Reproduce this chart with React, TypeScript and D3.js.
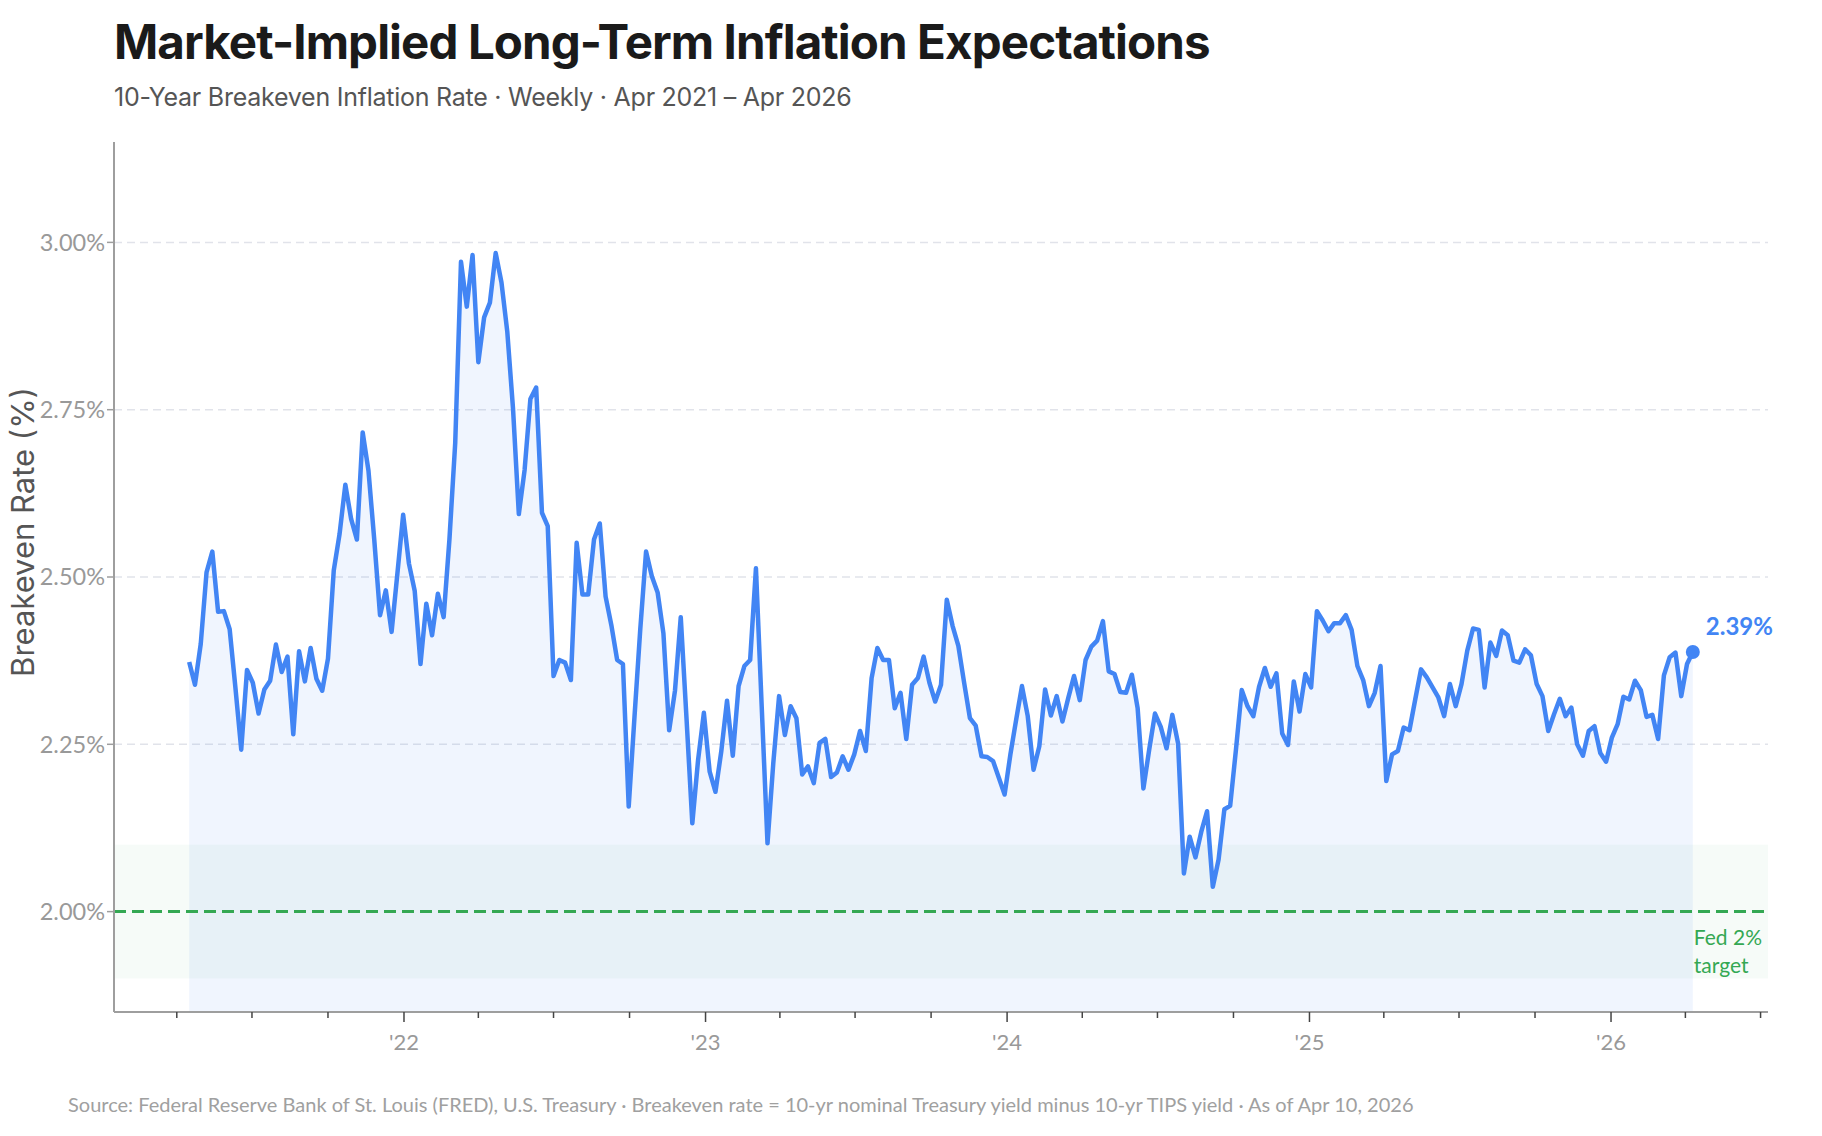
import { useEffect } from 'react';
import * as d3 from 'd3';

const TITLE = 'Market-Implied Long-Term Inflation Expectations';
const SUBTITLE = '10-Year Breakeven Inflation Rate · Weekly · Apr 2021 – Apr 2026';
const SOURCE =
  'Source: Federal Reserve Bank of St. Louis (FRED), U.S. Treasury · Breakeven rate = 10-yr nominal Treasury yield minus 10-yr TIPS yield · As of Apr 10, 2026';
const Y_LABEL = 'Breakeven Rate (%)';

// weekly observations, first one on this Friday
const FIRST_WEEK = '2021-04-16';

// 10-yr breakeven, %, one value per week
const BREAKEVEN = [
  // 2021
  2.373, 2.339, 2.4, 2.507, 2.538, 2.448, 2.449, 2.422, 2.334, 2.242, 2.361, 2.342, 2.296,
  2.332, 2.345, 2.399, 2.358, 2.381, 2.265, 2.389, 2.344, 2.394, 2.348, 2.33, 2.378, 2.51,
  2.564, 2.638, 2.587, 2.556, 2.716, 2.659, 2.556, 2.443, 2.48, 2.418, 2.505, 2.593,
  // 2022
  2.52, 2.479, 2.37, 2.46, 2.413, 2.475, 2.44, 2.556, 2.7, 2.971, 2.904, 2.981, 2.821,
  2.888, 2.91, 2.984, 2.94, 2.867, 2.751, 2.594, 2.66, 2.766, 2.783, 2.596, 2.576, 2.352,
  2.376, 2.372, 2.346, 2.551, 2.474, 2.474, 2.556, 2.58, 2.471, 2.428, 2.376, 2.37, 2.157,
  2.291, 2.422, 2.538, 2.501, 2.477, 2.416, 2.271, 2.33, 2.44, 2.288, 2.132, 2.227,
  // 2023
  2.297, 2.209, 2.179, 2.239, 2.315, 2.233, 2.337, 2.367, 2.376, 2.513, 2.306, 2.102,
  2.222, 2.322, 2.264, 2.307, 2.289, 2.205, 2.217, 2.192, 2.252, 2.258, 2.201, 2.208,
  2.232, 2.212, 2.235, 2.27, 2.24, 2.349, 2.394, 2.376, 2.376, 2.304, 2.327, 2.258, 2.339,
  2.349, 2.381, 2.342, 2.314, 2.339, 2.466, 2.427, 2.397, 2.342, 2.289, 2.278, 2.232,
  2.231, 2.225, 2.2,
  // 2024
  2.175, 2.235, 2.287, 2.337, 2.292, 2.212, 2.247, 2.332, 2.293, 2.322, 2.284, 2.319,
  2.352, 2.316, 2.376, 2.396, 2.405, 2.434, 2.359, 2.355, 2.328, 2.327, 2.354, 2.304,
  2.184, 2.242, 2.296, 2.276, 2.244, 2.294, 2.251, 2.057, 2.112, 2.081, 2.119, 2.15, 2.037,
  2.078, 2.153, 2.158, 2.242, 2.331, 2.307, 2.292, 2.336, 2.364, 2.336, 2.356, 2.266,
  2.249, 2.344, 2.299, 2.355,
  // 2025
  2.335, 2.449, 2.435, 2.419, 2.431, 2.431, 2.443, 2.421, 2.367, 2.346, 2.307, 2.327,
  2.367, 2.195, 2.235, 2.24, 2.275, 2.271, 2.317, 2.362, 2.35, 2.335, 2.32, 2.292, 2.34,
  2.307, 2.34, 2.39, 2.423, 2.421, 2.335, 2.402, 2.382, 2.42, 2.413, 2.375, 2.372, 2.392,
  2.383, 2.34, 2.322, 2.27, 2.295, 2.318, 2.292, 2.305, 2.25, 2.233, 2.27, 2.277, 2.237,
  2.224,
  // 2026
  2.26, 2.28, 2.321, 2.317, 2.345, 2.331, 2.291, 2.294, 2.258, 2.353, 2.38, 2.387, 2.322,
  2.37, 2.388,
];

const Y_TICKS = [2.0, 2.25, 2.5, 2.75, 3.0];
const FED_TARGET = 2.0;
const TARGET_BAND = [1.9, 2.1];
const Y_DOMAIN = [1.85, 3.15];

const W = 1822;
const H = 1136;
const M = { top: 142, right: 54, bottom: 124, left: 114 };

const BLUE = '#4285f4';
const GREEN = '#34a853';
const AXIS = '#9e9e9e';
const SANS = 'Lato, "Noto Sans", sans-serif';
const HEAD = 'Inter, "Noto Sans", sans-serif';

export default function App() {
  useEffect(() => {
    document.body.style.margin = '0';
    document.body.style.overflow = 'hidden';
  }, []);

  const first = d3.timeParse('%Y-%m-%d')(FIRST_WEEK)!;
  const points = BREAKEVEN.map((v, i) => ({ date: d3.timeDay.offset(first, 7 * i), v }));
  const lastPt = points[points.length - 1];

  const x = d3
    .scaleTime()
    .domain([d3.timeDay.offset(first, -91), d3.timeDay.offset(lastPt.date, 91)])
    .range([M.left, W - M.right]);
  const y = d3.scaleLinear().domain(Y_DOMAIN).range([H - M.bottom, M.top]);

  const line = d3
    .line<{ date: Date; v: number }>()
    .x((d) => x(d.date))
    .y((d) => y(d.v));
  const area = d3
    .area<{ date: Date; v: number }>()
    .x((d) => x(d.date))
    .y0(H - M.bottom)
    .y1((d) => y(d.v));

  const xTicks = x.ticks(d3.timeMonth.every(3)!);
  const x0 = M.left;
  const x1 = W - M.right;
  const yBottom = H - M.bottom;
  const lx = x(lastPt.date);
  const ly = y(lastPt.v);

  return (
    <svg width={W} height={H} style={{ position: 'absolute', left: 0, top: 0, background: '#fff' }}>
      <text x={M.left} y={59} fontFamily={HEAD} fontWeight={700} fontSize={47.5} letterSpacing={-0.9} fill="#1a1a1a">
        {TITLE}
      </text>
      <text x={M.left} y={106} fontFamily={HEAD} fontSize={25} letterSpacing={-0.25} fill="#555">
        {SUBTITLE}
      </text>

      {/* target band */}
      <rect
        x={x0}
        width={x1 - x0}
        y={y(TARGET_BAND[1])}
        height={y(TARGET_BAND[0]) - y(TARGET_BAND[1])}
        fill={GREEN}
        fillOpacity={0.045}
      />

      {/* grid */}
      {Y_TICKS.filter((t) => t !== FED_TARGET).map((t) => (
        <line key={t} x1={x0} x2={x1} y1={y(t)} y2={y(t)} stroke="#e1e3ea" strokeWidth={1.5} strokeDasharray="8,5" />
      ))}

      <path d={area(points)!} fill={BLUE} fillOpacity={0.08} />

      <line
        x1={x0}
        x2={x1}
        y1={y(FED_TARGET)}
        y2={y(FED_TARGET)}
        stroke={GREEN}
        strokeWidth={3}
        strokeDasharray="12,6"
      />

      <path d={line(points)!} fill="none" stroke={BLUE} strokeWidth={4.5} strokeLinejoin="round" />
      <circle cx={lx} cy={ly} r={7} fill={BLUE} />
      <text x={lx + 13} y={ly - 17} fontFamily={SANS} fontWeight={700} fontSize={24} fill={BLUE}>
        {lastPt.v.toFixed(2)}%
      </text>

      <text fontFamily={SANS} fontSize={21} fill={GREEN}>
        <tspan x={lx + 1} y={y(FED_TARGET) + 33}>Fed 2%</tspan>
        <tspan x={lx + 1} y={y(FED_TARGET) + 61}>target</tspan>
      </text>

      {/* axes */}
      <line x1={x0} x2={x0} y1={M.top} y2={yBottom} stroke={AXIS} strokeWidth={2} />
      <line x1={x0} x2={x1} y1={yBottom} y2={yBottom} stroke={AXIS} strokeWidth={2} />
      {Y_TICKS.map((t) => (
        <g key={t} transform={`translate(0,${y(t)})`}>
          <line x1={x0 - 7} x2={x0} stroke={AXIS} strokeWidth={1.5} />
          <text x={x0 - 9} dy="0.35em" textAnchor="end" fontFamily={SANS} fontSize={23.5} fill="#999">
            {t.toFixed(2)}%
          </text>
        </g>
      ))}
      {xTicks.map((d) => {
        const isYear = d.getMonth() === 0;
        return (
          <g key={+d} transform={`translate(${x(d)},${yBottom})`}>
            <line y1={0} y2={isYear ? 10 : 6} stroke="#444" strokeWidth={1.5} />
            {isYear && (
              <text y={38} textAnchor="middle" fontFamily={SANS} fontSize={22} fill="#999">
                {"'" + d3.timeFormat('%y')(d)}
              </text>
            )}
          </g>
        );
      })}

      <text
        transform={`translate(34,532) rotate(-90)`}
        textAnchor="middle"
        fontFamily={HEAD}
        fontSize={31}
        fill="#555"
      >
        {Y_LABEL}
      </text>

      <text x={68} y={1112} fontFamily={SANS} fontSize={20} fill="#a0a0a0">
        {SOURCE}
      </text>
    </svg>
  );
}
